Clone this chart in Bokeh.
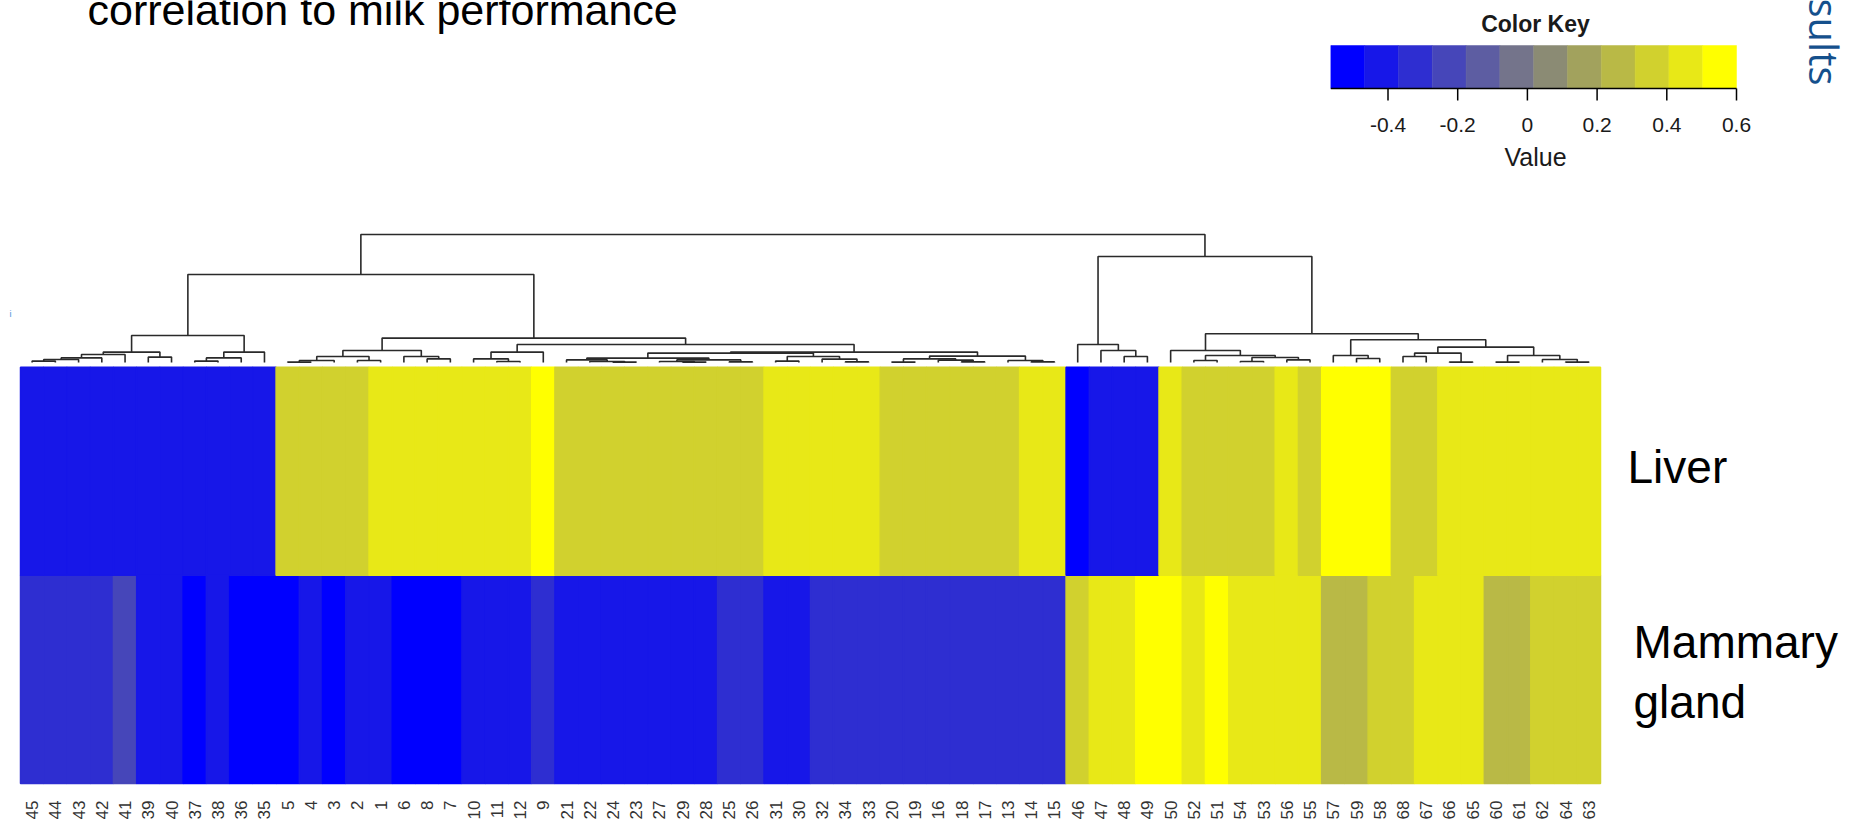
import math
from bokeh.plotting import figure
from bokeh.models import Range1d, ColumnDataSource, LinearColorMapper
from bokeh.core.properties import value
from bokeh.embed import file_html
from bokeh.resources import INLINE

# ---------------- data ----------------
col_labels = ["45", "44", "43", "42", "41", "39", "40", "37", "38", "36", "35",
              "5", "4", "3", "2", "1", "6", "8", "7", "10", "11", "12", "9",
              "21", "22", "24", "23", "27", "29", "28", "25", "26", "31", "30",
              "32", "34", "33", "20", "19", "16", "18", "17", "13", "14", "15",
              "46", "47", "48", "49", "50", "52", "51", "54", "53", "56", "55",
              "57", "59", "58", "68", "67", "66", "65", "60", "61", "62", "64", "63"]

liver = [-0.42, -0.42, -0.41, -0.42, -0.43, -0.42, -0.41, -0.42, -0.42, -0.43, -0.42,
         0.36, 0.35, 0.36, 0.37, 0.45, 0.46, 0.45, 0.44, 0.45, 0.46, 0.45, 0.57,
         0.36, 0.35, 0.36, 0.37, 0.36, 0.35, 0.36, 0.36, 0.37, 0.45, 0.46,
         0.45, 0.44, 0.45, 0.36, 0.35, 0.36, 0.37, 0.36, 0.35, 0.45, 0.46,
         -0.53, -0.42, -0.41, -0.42, 0.45, 0.36, 0.35, 0.36, 0.37, 0.45, 0.36,
         0.56, 0.57, 0.56, 0.36, 0.35, 0.45, 0.46, 0.45, 0.44, 0.45, 0.46, 0.45]

mammary = [-0.32, -0.33, -0.32, -0.31, -0.23, -0.42, -0.41, -0.53, -0.42, -0.52, -0.53,
           -0.54, -0.42, -0.53, -0.41, -0.42, -0.52, -0.53, -0.52, -0.42, -0.41, -0.42, -0.32,
           -0.42, -0.41, -0.42, -0.43, -0.42, -0.41, -0.42, -0.32, -0.33, -0.42, -0.41,
           -0.32, -0.31, -0.32, -0.33, -0.32, -0.31, -0.32, -0.33, -0.32, -0.31, -0.32,
           0.36, 0.45, 0.46, 0.56, 0.57, 0.45, 0.56, 0.45, 0.46, 0.45, 0.44,
           0.26, 0.27, 0.36, 0.35, 0.45, 0.46, 0.45, 0.26, 0.25, 0.36, 0.35, 0.36]

row_names = ["Mammary gland", "Liver"]          # bottom row first

# column dendrogram: (left, right, height); ids >= 68 are earlier merges
merges = [
    (0, 1, 0.07), (68, 2, 0.15), (69, 3, 0.23), (70, 4, 0.40), (5, 6, 0.27),
    (71, 72, 0.52), (7, 8, 0.07), (74, 9, 0.23), (75, 10, 0.52), (73, 76, 1.35),
    (11, 12, 0.02), (78, 13, 0.10), (14, 15, 0.10), (79, 80, 0.30), (17, 18, 0.18),
    (16, 82, 0.30), (81, 83, 0.60),
    (20, 21, 0.05), (19, 85, 0.18), (86, 22, 0.52),
    (25, 26, 0.02), (24, 88, 0.05), (23, 89, 0.13), (28, 29, 0.02), (27, 91, 0.05),
    (30, 31, 0.03), (92, 93, 0.13), (90, 94, 0.22), (32, 33, 0.07), (35, 36, 0.03),
    (34, 97, 0.17), (96, 98, 0.30), (95, 99, 0.47), (37, 38, 0.02), (40, 41, 0.03),
    (39, 102, 0.12), (101, 103, 0.18), (43, 44, 0.03), (42, 105, 0.10),
    (104, 106, 0.32), (100, 107, 0.52), (87, 108, 0.90), (84, 109, 1.22),
    (77, 110, 4.40),
    (47, 48, 0.30), (46, 112, 0.60), (45, 113, 0.90),
    (50, 51, 0.10), (52, 53, 0.05), (54, 55, 0.13), (116, 117, 0.25),
    (115, 118, 0.35), (49, 119, 0.60), (57, 58, 0.20), (56, 121, 0.35),
    (59, 60, 0.30), (61, 62, 0.02), (123, 124, 0.47), (63, 64, 0.02),
    (66, 67, 0.02), (65, 127, 0.15), (126, 128, 0.35), (125, 129, 0.77),
    (122, 130, 1.14), (120, 131, 1.44), (114, 132, 5.30), (111, 133, 6.40),
]

palette = ["#0000FF", "#1717E8", "#2E2ED1", "#4646B9", "#5D5DA2", "#74748B",
           "#8B8B74", "#A2A25D", "#B9B946", "#D1D12E", "#E8E817", "#FFFF00"]
key_low, key_high = -0.564, 0.6
key_ticks = [-0.4, -0.2, 0, 0.2, 0.4, 0.6]
key_tick_labels = ["-0.4", "-0.2", "0", "0.2", "0.4", "0.6"]

# ---------------- layout (screen pixels of the page) ----------------
# Bokeh's page template sets the body margin to 0, so the canvas starts at (0, 0)
W, H = 1863, 823
OX, OY = 0, 0
BOT = OY + H
hm_left, hm_right, hm_top, hm_bottom = 20.0, 1600.0, 366.7, 783.0
n = len(col_labels)
cw = (hm_right - hm_left) / n
rh = (hm_bottom - hm_top) / 2
dendro_base, dendro_scale = 362.0, 20.0
key_x0, key_xs = 1526.9, 348.5
key_y0, key_ys = 88.0, 43.0

p = figure(width=W, height=H, output_backend="svg", toolbar_location=None,
           x_range=Range1d((OX - hm_left) / cw, (OX + W - hm_left) / cw),
           y_range=Range1d(-(BOT - hm_bottom) / rh, (hm_bottom - OY) / rh),
           min_border=0, x_axis_location=None, y_axis_location=None)
p.extra_y_ranges = {
    "dendro": Range1d(-(BOT - dendro_base) / dendro_scale, (dendro_base - OY) / dendro_scale),
    "key": Range1d(-(BOT - key_y0) / key_ys, (key_y0 - OY) / key_ys),
    "py": Range1d(BOT, OY),
}
p.extra_x_ranges = {
    "key": Range1d((OX - key_x0) / key_xs, (OX + W - key_x0) / key_xs),
    "px": Range1d(OX, OX + W),
}
p.grid.visible = False
p.outline_line_color = None
p.background_fill_color = "white"
p.border_fill_color = "white"

# ---------------- heatmap ----------------
mapper = LinearColorMapper(palette=palette, low=key_low, high=key_high)
xs, rows, vals = [], [], []
for r, series in enumerate([mammary, liver]):
    for i, v in enumerate(series):
        xs.append(i)
        rows.append(r)
        vals.append(v)
src = ColumnDataSource(dict(left=xs, right=[x + 1 for x in xs], bottom=rows,
                            top=[r + 1 for r in rows], v=vals))
p.quad(left="left", right="right", bottom="bottom", top="top", source=src,
       fill_color={"field": "v", "transform": mapper},
       line_color={"field": "v", "transform": mapper}, line_width=1.5)

# ---------------- dendrogram ----------------
pos = {i: i + 0.5 for i in range(n)}
hgt = {i: 0.0 for i in range(n)}
dx, dy = [], []
for k, (a, b, h) in enumerate(merges):
    dx.append([pos[a], pos[a], pos[b], pos[b]])
    dy.append([hgt[a], h, h, hgt[b]])
    pos[n + k] = (pos[a] + pos[b]) / 2
    hgt[n + k] = h
p.multi_line(xs=dx, ys=dy, line_color="#2a2a2a", line_width=1.6, y_range_name="dendro")

# ---------------- column labels ----------------
p.text(x=[i + 0.5 for i in range(n)], y=[800] * n, text=col_labels, angle=math.pi / 2,
       text_font=value("Liberation Sans"), text_font_size="17px", text_color="#333333",
       text_align="right", text_baseline="middle", y_range_name="py")

# ---------------- color key ----------------
edges = [key_low + (key_high - key_low) * k / len(palette) for k in range(len(palette) + 1)]
p.quad(left=edges[:-1], right=edges[1:], bottom=0, top=1, fill_color=palette,
       line_color=palette, line_width=0.5, x_range_name="key", y_range_name="key")
p.segment(x0=[key_low], y0=[0], x1=[key_high], y1=[0], line_color="black", line_width=1.5,
          x_range_name="key", y_range_name="key")
p.segment(x0=key_ticks, y0=[0] * len(key_ticks), x1=key_ticks,
          y1=[-12 / key_ys] * len(key_ticks), line_color="black", line_width=1.5,
          x_range_name="key", y_range_name="key")
p.text(x=key_ticks, y=[-(124.5 - key_y0) / key_ys] * len(key_ticks), text=key_tick_labels,
       text_font=value("Liberation Sans"), text_font_size="21px", text_color="#1a1a1a",
       text_align="center", text_baseline="middle", x_range_name="key", y_range_name="key")
p.text(x=[1535], y=[23.5], text=["Color Key"], text_font=value("Liberation Sans"),
       text_font_size="23px", text_font_style="bold", text_color="#1a1a1a",
       text_align="center", text_baseline="middle", x_range_name="px", y_range_name="py")
p.text(x=[1535], y=[156], text=["Value"], text_font=value("Liberation Sans"),
       text_font_size="25px", text_color="#1a1a1a",
       text_align="center", text_baseline="middle", x_range_name="px", y_range_name="py")

# ---------------- other texts (middle baseline: em-box centre) ----------------
p.text(x=[87], y=[9.5], text=["correlation to milk performance"],
       text_font=value("Liberation Sans"), text_font_size="43px", text_color="black",
       text_align="left", text_baseline="middle", x_range_name="px", y_range_name="py")
p.text(x=[1627, 1633, 1633], y=[466, 641, 701], text=["Liver", "Mammary", "gland"],
       text_font=value("Liberation Sans"), text_font_size="46px", text_color="black",
       text_align="left", text_baseline="middle", x_range_name="px", y_range_name="py")
p.text(x=[1824], y=[85], text=["Results"], angle=-math.pi / 2,
       text_font=value("Open Sans"), text_font_size="40px", text_color="#15508C",
       text_align="right", text_baseline="middle", x_range_name="px", y_range_name="py")
p.text(x=[10], y=[313], text=["i"], text_font=value("Liberation Sans"),
       text_font_size="9px", text_color="#4A90D9", text_align="center",
       text_baseline="middle", x_range_name="px", y_range_name="py")

open("out.html", "w").write(file_html(p, INLINE))
